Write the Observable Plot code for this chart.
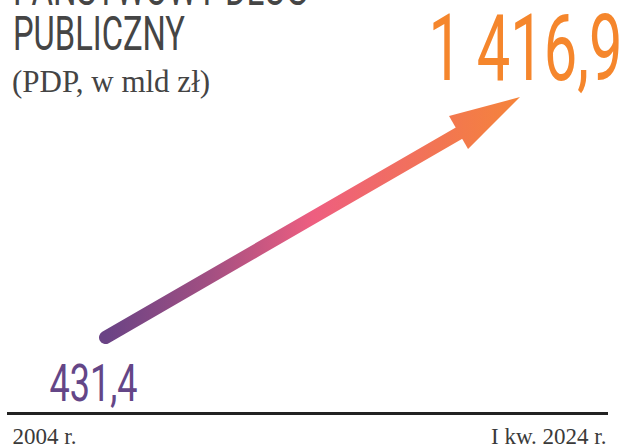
<!DOCTYPE html>
<html>
<head>
<meta charset="utf-8">
<script src="https://cdn.jsdelivr.net/npm/d3@7"></script>
<script src="https://cdn.jsdelivr.net/npm/@observablehq/plot@0.6"></script>
<style>
  body { margin: 0; background: #ffffff; }
  #wrap { position: relative; width: 624px; height: 446px; overflow: hidden; background: #fff; }
  #head { position: absolute; left: 0; top: 0; }
  #chart { position: absolute; left: 0; top: 0; }
</style>
</head>
<body>
<div id="wrap">
  <div id="chart"></div>
  <svg id="head" width="420" height="110"></svg>
</div>
<script>
// ---- data ----
const titleLines = ["PAŃSTWOWY DŁUG", "PUBLICZNY"];
const subtitle = "(PDP, w mld zł)";
const periods = ["2004 r.", "I kw. 2024 r."];
const periodX = [2004, 2024.25];
const debt = [431.4, 1416.9];

const points = periods.map((p, i) => ({period: p, year: periodX[i], value: debt[i]}));
const segment = [{x1: periodX[0], y1: debt[0], x2: periodX[1], y2: debt[1]}];

const pl = d3.formatLocale({decimal: ",", thousands: " ", grouping: [3], currency: ["", " zł"]});
const fmt = pl.format(",.1f");

// ---- colours / styles ----
const purple = "#644687";
const orange = "#f5862c";
const numFont = "Roboto, 'Noto Sans', sans-serif";
const serif = "'Liberation Serif', 'DejaVu Serif', serif";

// ---- title block ----
const head = d3.select("#head");
head.append("text")
  .attr("x", 13).attr("y", 5)
  .attr("font-family", numFont).attr("font-size", 49)
  .attr("fill", "#454545")
  .attr("textLength", 295).attr("lengthAdjust", "spacingAndGlyphs")
  .text(titleLines[0]);
head.append("text")
  .attr("x", 13).attr("y", 50)
  .attr("font-family", numFont).attr("font-size", 49)
  .attr("fill", "#454545")
  .attr("textLength", 172).attr("lengthAdjust", "spacingAndGlyphs")
  .text(titleLines[1]);
head.append("text")
  .attr("x", 12).attr("y", 92)
  .attr("font-family", serif).attr("font-size", 31)
  .attr("fill", "#444444")
  .text(subtitle);

// ---- arrow head + gradient (drawn through Plot's scales) ----
function arrowHead(index, scales) {
  const x1 = scales.x(periodX[0]), y1 = scales.y(debt[0]);
  const x2 = scales.x(periodX[1]), y2 = scales.y(debt[1]);
  const dx = x2 - x1, dy = y2 - y1, len = Math.hypot(dx, dy);
  const ux = dx / len, uy = dy / len, nx = -uy, ny = ux;
  const headLen = 71, halfW = 19;
  const bx = x2 - ux * headLen, by = y2 - uy * headLen;
  const g = d3.create("svg:g");
  const grad = g.append("defs").append("linearGradient")
    .attr("id", "arrowGrad")
    .attr("gradientUnits", "userSpaceOnUse")
    .attr("x1", x1).attr("y1", 0).attr("x2", x2).attr("y2", 0);
  [[0, "#6a4385"], [0.25, "#a24f82"], [0.5, "#ee5e80"], [0.8, "#f27553"], [1, "#f5843a"]]
    .forEach(([o, c]) => grad.append("stop").attr("offset", o).attr("stop-color", c));
  g.append("polygon")
    .attr("points", [[x2, y2], [bx + nx * halfW, by + ny * halfW], [bx - nx * halfW, by - ny * halfW]].map(p => p.join(",")).join(" "))
    .attr("fill", "url(#arrowGrad)");
  return g.node();
}

const chart = Plot.plot({
  width: 624,
  height: 446,
  marginTop: 0,
  marginLeft: 8,
  marginRight: 18,
  marginBottom: 33,
  x: {type: "linear", domain: periodX, range: [105, 520], axis: null},
  y: {type: "linear", domain: debt, range: [337, 97], axis: null},
  style: {background: "transparent", overflow: "visible"},
  marks: [
    Plot.frame({anchor: "bottom", stroke: "#222222", strokeWidth: 3}),
    Plot.arrow(segment, {
      x1: "x1", y1: "y1", x2: "x2", y2: "y2",
      stroke: "url(#arrowGrad)", strokeWidth: 13, strokeLinecap: "round",
      headLength: 0, insetEnd: 45
    }),
    arrowHead,
    Plot.text([points[1]], {
      x: "year", y: "value", text: d => fmt(d.value),
      textAnchor: "end", lineAnchor: "bottom", dx: 102, dy: -18,
      fontSize: 93, fontFamily: numFont, fill: orange
    }),
    Plot.text([points[0]], {
      x: "year", y: "value", text: d => fmt(d.value),
      textAnchor: "start", lineAnchor: "bottom", dx: -56, dy: 63,
      fontSize: 52, fontFamily: numFont, fill: purple
    }),
    Plot.text([periods[0]], {
      frameAnchor: "bottom-left", text: d => d, textAnchor: "start", lineAnchor: "bottom",
      dx: 4, dy: 30, fontSize: 23, fontFamily: serif, fill: "#3a3a3a"
    }),
    Plot.text([periods[1]], {
      frameAnchor: "bottom-right", text: d => d, textAnchor: "end", lineAnchor: "bottom",
      dx: 0, dy: 30, fontSize: 23, fontFamily: serif, fill: "#3a3a3a"
    })
  ]
});

// condense the numeric labels to the narrow face of the original
const widths = new Map([[fmt(debt[1]), 194], [fmt(debt[0]), 88]]);
d3.select(chart).selectAll("text").each(function () {
  const w = widths.get(this.textContent);
  if (w) d3.select(this).attr("textLength", w).attr("lengthAdjust", "spacingAndGlyphs");
});

document.getElementById("chart").appendChild(chart);
</script>
</body>
</html>
